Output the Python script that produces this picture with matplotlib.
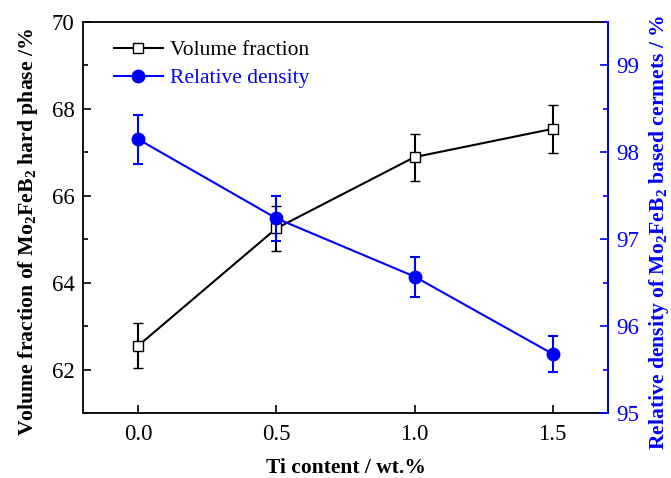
import matplotlib
matplotlib.use('Agg')
import matplotlib.pyplot as plt
from matplotlib.ticker import MultipleLocator
from matplotlib.lines import Line2D

plt.rcParams['font.family'] = ['Liberation Serif', 'DejaVu Serif']
plt.rcParams['mathtext.fontset'] = 'custom'
plt.rcParams['mathtext.rm'] = 'Liberation Serif'
plt.rcParams['mathtext.bf'] = 'Liberation Serif:bold'

# datos
ti_content = [0.0, 0.5, 1.0, 1.5]
vol_fraction = [62.55, 65.25, 66.89, 67.54]
vol_err = [0.52, 0.52, 0.54, 0.56]
rel_density = [98.15, 97.24, 96.57, 95.68]
dens_err = [0.28, 0.26, 0.23, 0.21]

blue = '#0000ff'

fig = plt.figure(figsize=(6.71, 4.78), dpi=100)
ax = fig.add_axes([0.1237, 0.136, 0.7823, 0.818])

# fraccion de volumen (eje izquierdo)
ax.errorbar(ti_content, vol_fraction, yerr=vol_err, color='black', lw=1.5,
            marker='s', ms=7.5, mfc='white', mec='black', mew=1.0,
            capsize=3.5, capthick=1.5, elinewidth=1.5)
ax.set_xlim(-0.2, 1.7)
ax.set_ylim(61, 70)
ax.xaxis.set_major_locator(MultipleLocator(0.5))
ax.yaxis.set_major_locator(MultipleLocator(2))
ax.yaxis.set_minor_locator(MultipleLocator(1))
ax.xaxis.set_major_formatter(plt.FormatStrFormatter('%.1f'))
ax.tick_params(axis='both', which='both', direction='in', labelsize=16.5)
ax.tick_params(axis='both', which='major', length=6, width=1.2)
ax.tick_params(axis='y', which='minor', length=3.5, width=1.2)
ax.tick_params(axis='x', pad=8)
ax.tick_params(axis='y', pad=6)
for sp in ax.spines.values():
    sp.set_linewidth(1.3)
ax.set_xlabel('Ti content / wt.%', fontsize=15.5, fontweight='bold', labelpad=9)
ax.set_ylabel(r'Volume fraction of Mo$_\mathbf{2}$FeB$_\mathbf{2}$ hard phase /%',
              fontsize=15.7, fontweight='bold')
ax.yaxis.set_label_coords(-0.081, 0.463)

# densidad relativa (eje derecho)
ax2 = ax.twinx()
ax2.errorbar(ti_content, rel_density, yerr=dens_err, color=blue, lw=1.5,
             marker='o', ms=9, mfc=blue, mec=blue,
             capsize=3.5, capthick=1.5, elinewidth=1.5)
ax2.set_ylim(95, 99.5)
ax2.yaxis.set_major_locator(MultipleLocator(1))
ax2.yaxis.set_minor_locator(MultipleLocator(0.5))
ax2.tick_params(axis='y', which='both', direction='in', labelsize=16.5,
                colors=blue, pad=6)
ax2.tick_params(axis='y', which='major', length=6, width=1.2)
ax2.tick_params(axis='y', which='minor', length=3.5, width=1.2)
ax2.spines['right'].set_color(blue)
ax2.spines['right'].set_linewidth(1.3)
ax2.spines['left'].set_visible(False)
ax2.spines['top'].set_visible(False)
ax2.spines['bottom'].set_visible(False)
ax2.set_ylabel(r'Relative density of Mo$_\mathbf{2}$FeB$_\mathbf{2}$ based cermets / %',
               fontsize=15.6, fontweight='bold', color=blue)
ax2.yaxis.set_label_coords(1.075, 0.463)

# leyenda sin barras de error
handles = [
    Line2D([], [], color='black', lw=1.5, marker='s', ms=7.5, mfc='white', mec='black', mew=1.0),
    Line2D([], [], color=blue, lw=1.5, marker='o', ms=9, mfc=blue, mec=blue),
]
leg = ax2.legend(handles, ['Volume fraction', 'Relative density'], loc='upper left',
                 frameon=False, fontsize=15.5, handlelength=2.3, handletextpad=0.3,
                 borderaxespad=0.0, labelspacing=0.35, bbox_to_anchor=(0.042, 0.975))
leg.get_texts()[1].set_color(blue)

fig.savefig('out.png', dpi=100)
